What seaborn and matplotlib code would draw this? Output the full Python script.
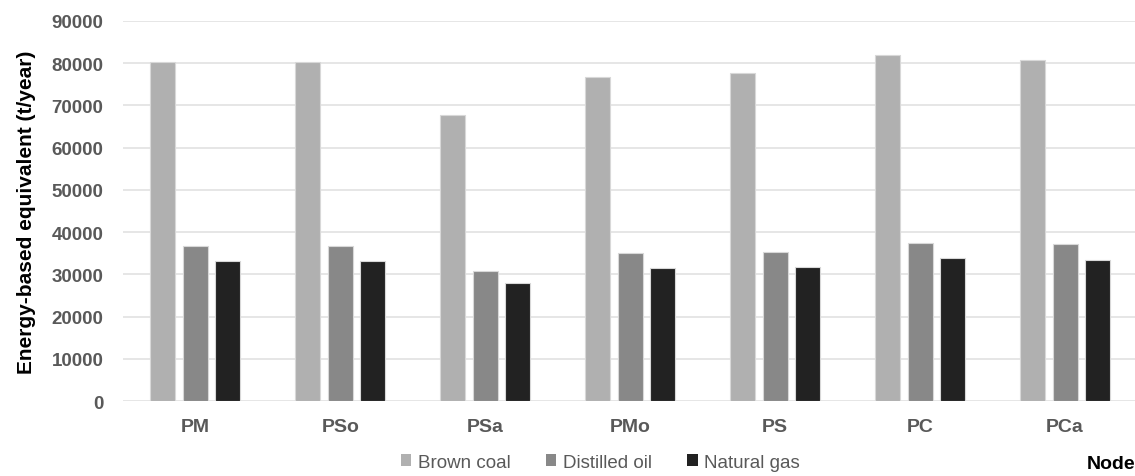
import matplotlib
matplotlib.use("Agg")
import matplotlib.pyplot as plt
import seaborn as sns
import pandas as pd
from matplotlib.patches import Patch

nodes = ["PM", "PSo", "PSa", "PMo", "PS", "PC", "PCa"]
fuels = ["Brown coal", "Distilled oil", "Natural gas"]
brown_coal = [80400, 80400, 67750, 76700, 77700, 82000, 80700]
distilled_oil = [36700, 36700, 30800, 35050, 35200, 37400, 37100]
natural_gas = [33200, 33200, 27850, 31500, 31800, 33900, 33500]
yticks = list(range(0, 90001, 10000))

colors = ["#b0b0b0", "#888888", "#222222"]

df = pd.DataFrame({
    "Node": nodes * 3,
    "Fuel": [f for f in fuels for _ in nodes],
    "Value": brown_coal + distilled_oil + natural_gas,
})

sns.set_theme(style="white")
plt.rcParams["font.family"] = ["Liberation Sans", "DejaVu Sans"]

fig = plt.figure(figsize=(11.35, 4.77), dpi=100)
ax = fig.add_axes([0.1082, 0.1572, 0.894, 0.7967])

sns.barplot(data=df, x="Node", y="Value", hue="Fuel", order=nodes, hue_order=fuels,
            palette=colors, width=0.672, gap=0.23, edgecolor="#d8d8d8", linewidth=0.8,
            ax=ax, legend=False, zorder=3)

ax.set_ylim(0, 90000)
ax.set_xlim(-0.5, len(nodes) - 0.5)
ax.set_yticks(yticks)
ax.set_yticklabels([str(v) for v in yticks], fontsize=13.5, fontweight="bold", color="#595959")
ax.set_xticks(range(len(nodes)))
ax.set_xticklabels(nodes, fontsize=14, fontweight="bold", color="#595959")
ax.tick_params(axis="y", length=0, pad=14)
ax.tick_params(axis="x", length=0, pad=12.5)
ax.grid(axis="y", color="#e2e2e2", linewidth=1.2, zorder=0)
for s in ax.spines.values():
    s.set_visible(False)
ax.set_xlabel("")
ax.set_ylabel("Energy-based equivalent (t/year)", fontsize=15, fontweight="bold",
              color="black", labelpad=11)

handles = [Patch(facecolor=c, edgecolor="none") for c in colors]
fig.legend(handles, fuels, loc="center", bbox_to_anchor=(0.529, 0.029), ncol=3,
           frameon=False, fontsize=13.5, handlelength=0.55, handleheight=0.55,
           handletextpad=0.35, columnspacing=1.9, labelcolor="#595959")

fig.text(1087 / 1135, 1 - 465 / 477, "Node", fontsize=14, fontweight="bold",
         color="black", ha="left", va="center")

fig.savefig("out.png", dpi=100)
